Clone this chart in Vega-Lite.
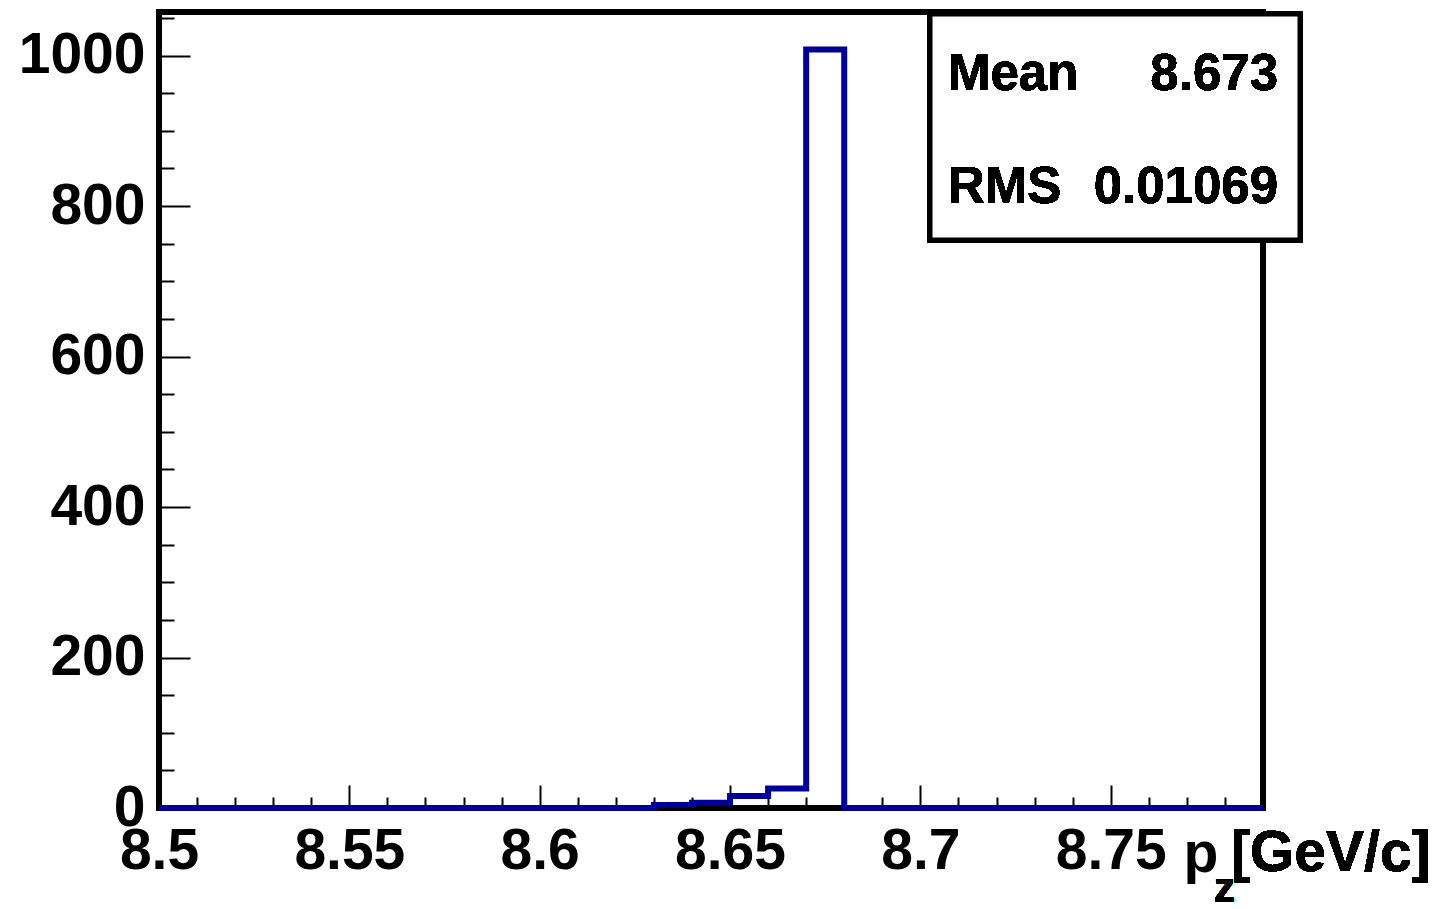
{
  "$schema": "https://vega.github.io/schema/vega-lite/v6.json",
  "width": 1104,
  "height": 796,
  "autosize": "none",
  "padding": {"left": 159, "top": 12, "right": 192, "bottom": 101},
  "background": "white",
  "config": {"view": {"stroke": null}, "font": "Liberation Sans"},
  "datasets": {
    "hist": [
      {"pz": 8.50, "count": 0}, {"pz": 8.51, "count": 0}, {"pz": 8.52, "count": 0}, {"pz": 8.53, "count": 0},
      {"pz": 8.54, "count": 0}, {"pz": 8.55, "count": 0}, {"pz": 8.56, "count": 0}, {"pz": 8.57, "count": 0},
      {"pz": 8.58, "count": 0}, {"pz": 8.59, "count": 0}, {"pz": 8.60, "count": 0}, {"pz": 8.61, "count": 0},
      {"pz": 8.62, "count": 0}, {"pz": 8.63, "count": 4}, {"pz": 8.64, "count": 7}, {"pz": 8.65, "count": 16},
      {"pz": 8.66, "count": 26}, {"pz": 8.67, "count": 1008}, {"pz": 8.68, "count": 0}, {"pz": 8.69, "count": 0},
      {"pz": 8.70, "count": 0}, {"pz": 8.71, "count": 0}, {"pz": 8.72, "count": 0}, {"pz": 8.73, "count": 0},
      {"pz": 8.74, "count": 0}, {"pz": 8.75, "count": 0}, {"pz": 8.76, "count": 0}, {"pz": 8.77, "count": 0},
      {"pz": 8.78, "count": 0}, {"pz": 8.79, "count": 0}
    ]
  },
  "data": {"name": "hist"},
  "layer": [
    {
      "mark": {"type": "rect", "fill": null, "stroke": "black", "strokeWidth": 5, "clip": false},
      "encoding": {
        "x": {"datum": 8.5, "type": "quantitative"},
        "x2": {"datum": 8.79},
        "y": {"datum": 0, "type": "quantitative"},
        "y2": {"datum": 1058}
      }
    },
    {
      "mark": {"type": "line", "interpolate": "step-after", "color": "#000099", "strokeWidth": 6, "strokeJoin": "miter"},
      "encoding": {
        "x": {
          "field": "pz", "type": "quantitative",
          "scale": {"domain": [8.5, 8.79], "nice": false, "zero": false},
          "axis": {
            "values": [8.5, 8.51, 8.52, 8.53, 8.54, 8.55, 8.56, 8.57, 8.58, 8.59, 8.6, 8.61, 8.62, 8.63, 8.64, 8.65, 8.66, 8.67, 8.68, 8.69, 8.7, 8.71, 8.72, 8.73, 8.74, 8.75, 8.76, 8.77, 8.78],
            "tickCount": 200,
            "labelExpr": "abs(datum.value*20 - round(datum.value*20)) < 1e-6 ? format(datum.value, '~g') : ''",
            "tickSize": {"condition": {"test": "abs(datum.value*20 - round(datum.value*20)) < 1e-6", "value": -23}, "value": -11},
            "tickWidth": 2,
            "tickColor": "black",
            "domain": false,
            "grid": false,
            "labelFont": "Liberation Sans",
            "labelFontWeight": "bold",
            "labelFontSize": 57,
            "labelColor": "black",
            "labelPadding": 38,
            "labelFlush": false,
            "labelOverlap": false,
            "labelBound": false,
            "title": "p",
            "titleFont": "Liberation Sans",
            "titleFontWeight": "bold",
            "titleFontSize": 57,
            "titleColor": "black",
            "titleX": 1024,
            "titleY": 63,
            "titleAlign": "left",
            "titleBaseline": "alphabetic",
            "titleAngle": 0
          }
        },
        "y": {
          "field": "count", "type": "quantitative",
          "scale": {"domain": [0, 1058], "nice": false},
          "axis": {
            "values": [0, 50, 100, 150, 200, 250, 300, 350, 400, 450, 500, 550, 600, 650, 700, 750, 800, 850, 900, 950, 1000, 1050],
            "tickCount": 200,
            "labelExpr": "datum.value % 200 === 0 ? format(datum.value, 'd') : ''",
            "tickSize": {"condition": {"test": "datum.value % 200 === 0", "value": -31}, "value": -15},
            "tickWidth": 2,
            "tickColor": "black",
            "domain": false,
            "grid": false,
            "labelFont": "Liberation Sans",
            "labelFontWeight": "bold",
            "labelFontSize": 57,
            "labelColor": "black",
            "labelPadding": 45,
            "labelFlush": false,
            "labelOverlap": false,
            "labelBound": false,
            "title": null
          }
        }
      }
    },
    {
      "mark": {"type": "rect", "fill": "white", "stroke": "black", "strokeWidth": 5, "clip": false},
      "encoding": {
        "x": {"datum": 8.70253, "type": "quantitative"},
        "x2": {"datum": 8.79972},
        "y": {"datum": 754.9, "type": "quantitative"},
        "y2": {"datum": 1055.3}
      }
    },
    {
      "mark": {"type": "text", "align": "left", "baseline": "alphabetic", "font": "Liberation Sans", "fontWeight": "bold", "fontSize": 51, "color": "black"},
      "encoding": {"x": {"datum": 8.70726, "type": "quantitative"}, "y": {"datum": 954.3, "type": "quantitative"}, "text": {"value": "Mean"}}
    },
    {
      "mark": {"type": "text", "align": "right", "baseline": "alphabetic", "font": "Liberation Sans", "fontWeight": "bold", "fontSize": 51, "color": "black"},
      "encoding": {"x": {"datum": 8.79394, "type": "quantitative"}, "y": {"datum": 954.3, "type": "quantitative"}, "text": {"value": "8.673"}}
    },
    {
      "mark": {"type": "text", "align": "left", "baseline": "alphabetic", "font": "Liberation Sans", "fontWeight": "bold", "fontSize": 51, "color": "black"},
      "encoding": {"x": {"datum": 8.70726, "type": "quantitative"}, "y": {"datum": 803.8, "type": "quantitative"}, "text": {"value": "RMS"}}
    },
    {
      "mark": {"type": "text", "align": "right", "baseline": "alphabetic", "font": "Liberation Sans", "fontWeight": "bold", "fontSize": 51, "color": "black"},
      "encoding": {"x": {"datum": 8.79394, "type": "quantitative"}, "y": {"datum": 803.8, "type": "quantitative"}, "text": {"value": "0.01069"}}
    },
    {
      "mark": {"type": "text", "align": "left", "baseline": "alphabetic", "font": "Liberation Sans", "fontWeight": "bold", "fontSize": 42, "color": "black"},
      "encoding": {"x": {"datum": 8.7771, "type": "quantitative"}, "y": {"datum": -124.9, "type": "quantitative"}, "text": {"value": "z"}}
    },
    {
      "mark": {"type": "text", "align": "left", "baseline": "alphabetic", "font": "Liberation Sans", "fontWeight": "bold", "fontSize": 57, "color": "black"},
      "encoding": {"x": {"datum": 8.7816, "type": "quantitative"}, "y": {"datum": -83.7, "type": "quantitative"}, "text": {"value": "[GeV/c]"}}
    }
  ]
}
